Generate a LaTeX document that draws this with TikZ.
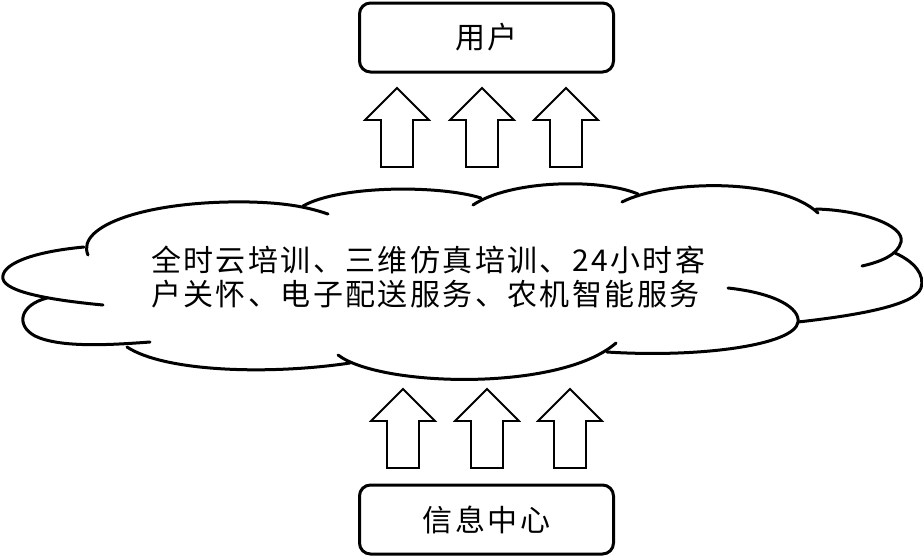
\documentclass[tikz,border=0pt]{standalone}
\usepackage{fontspec}
\newfontfamily\cjk[LetterSpace=8]{Noto Sans CJK SC}
\begin{document}
\begin{tikzpicture}[x=1pt,y=-1pt,
  box/.style={draw=black, line width=3pt, rounded corners=11pt, minimum width=254pt, minimum height=69pt, inner sep=0pt, font=\cjk\fontsize{30}{34}\selectfont},
  cloudline/.style={draw=black, line width=3pt, line cap=round},
  arrowline/.style={draw=black, line width=1.8pt, fill=white},
  uparr/.pic={\path[arrowline] (0,0) -- (32,32) -- (16,32) -- (16,79) -- (-16,79) -- (-16,32) -- (-32,32) -- cycle;}
]
\useasboundingbox (0,0) rectangle (923,558);

% boxes
\node[box] (user) at (486.5,37.5) {用户};
\node[box] (center) at (486.5,519.5) {信息中心};

% cloud lobes
\draw[cloudline] (88,255) .. controls (75,225) and (150,200) .. (250,202) .. controls (290,203) and (310,208) .. (328,214); % A
\draw[cloudline] (303,206) .. controls (340,185) and (440,185) .. (481,198); % B
\draw[cloudline] (473,205) .. controls (510,180) and (600,178) .. (638,194); % C
\draw[cloudline] (622,202) .. controls (665,180) and (780,177) .. (818,213); % D
\draw[cloudline] (816,209) .. controls (860,210) and (905,225) .. (901,242) .. controls (898,255) and (880,262) .. (862,266); % E
\draw[cloudline] (895,253) .. controls (915,262) and (925,275) .. (921,288) .. controls (915,305) and (860,315) .. (798,322); % F
\draw[cloudline] (728,288) .. controls (775,293) and (800,308) .. (798,322) .. controls (795,345) and (700,358) .. (607,352); % G
\draw[cloudline] (338,355) .. controls (380,387) and (560,392) .. (616,343); % H
\draw[cloudline] (127,347) .. controls (165,372) and (270,375) .. (350,363); % I
\draw[cloudline] (47,298) .. controls (20,305) and (15,325) .. (35,336) .. controls (60,348) and (110,345) .. (150,342); % J
\draw[cloudline] (84,247) .. controls (30,252) and (0,265) .. (3,279) .. controls (6,292) and (50,300) .. (103,305); % K

% cloud text
\node[anchor=west, inner sep=0pt, align=left, font=\cjk\fontsize{30}{34.5}\selectfont] (cloudtext) at (151,277)
  {全时云培训、三维仿真培训、24小时客\\户关怀、电子配送服务、农机智能服务};

% arrows
\coordinate (t1) at (397,88);
\coordinate (t2) at (482,88);
\coordinate (t3) at (566,88);
\coordinate (b1) at (403,389);
\coordinate (b2) at (487,389);
\coordinate (b3) at (570,389);
\foreach \p in {t1,t2,t3,b1,b2,b3} {\pic at (\p) {uparr};}
\end{tikzpicture}
\end{document}
